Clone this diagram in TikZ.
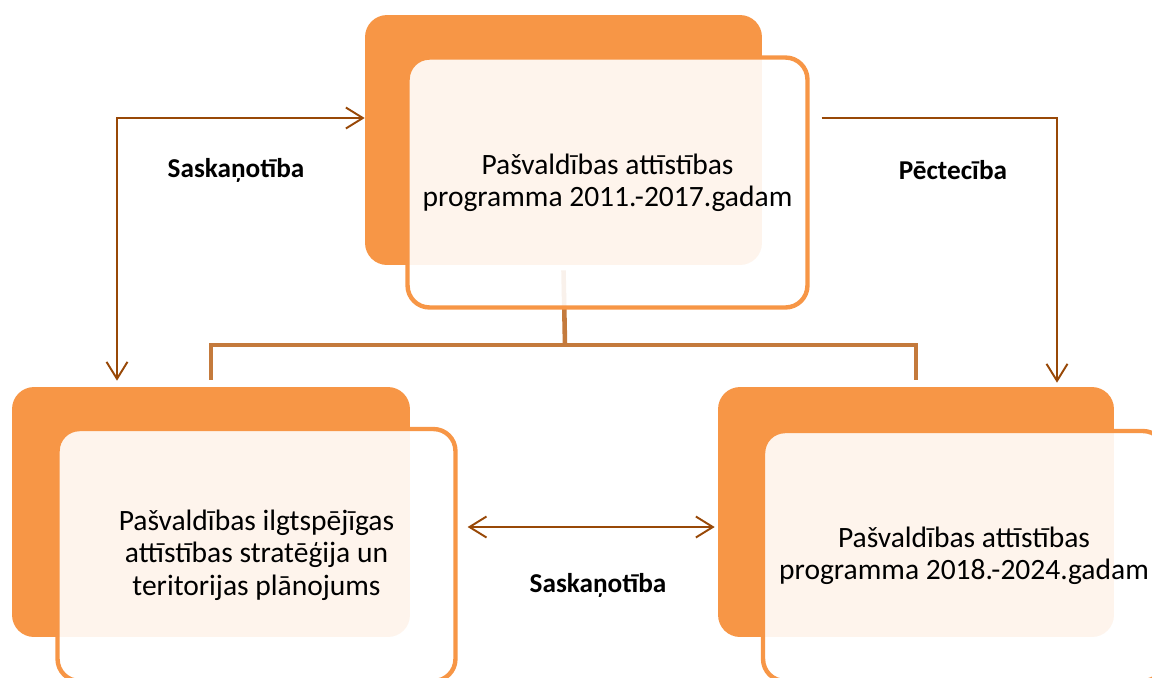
\documentclass[tikz,border=0pt]{standalone}
\usepackage{fontspec}
\setmainfont{Carlito}
\usepackage[HTML]{xcolor}
\usetikzlibrary{positioning, arrows.meta}
\definecolor{boxorange}{HTML}{F79646}
\definecolor{linkbrown}{HTML}{984807}
\definecolor{treebrown}{HTML}{C47A3C}

\begin{document}
\begin{tikzpicture}[x=0.02cm, y=-0.02cm,
    >={Straight Barb[length=0.34cm, width=0.42cm]},
    backbox/.style={fill=boxorange, rounded corners=0.44cm, inner sep=0pt, minimum height=5cm},
    frontbox/.style={draw=boxorange, line width=2.5pt, fill=white, fill opacity=0.9, text opacity=1,
        rounded corners=0.44cm, inner sep=0pt, align=center, font=\fontsize{16.8}{18.4}\selectfont},
    tree/.style={draw=treebrown, line width=2.6pt},
    link/.style={draw=linkbrown, line width=1.1pt},
    linklabel/.style={font=\bfseries\fontsize{15.5}{18}\selectfont}]
\useasboundingbox (0,0) rectangle (1152,677);

% orange boxes behind
\node[backbox, minimum width=7.94cm] (topback) at (563.5, 140) {};
\node[backbox, minimum width=7.96cm] (leftback) at (211, 512) {};
\node[backbox, minimum width=7.92cm] (rightback) at (916, 512) {};

% tree under the top box
\coordinate (hub) at (565, 345);
\draw[tree] ([yshift=-0.1cm]topback.south) -- (hub);
\draw[tree] ([yshift=0.14cm]leftback.north) |- (hub) -| ([yshift=0.14cm]rightback.north);

% boxes in front
\node[frontbox, minimum width=8cm, minimum height=5cm] (topfront) at (607.5, 182.5)
    {Pašvaldības attīstības\\programma 2011.-2017.gadam};
\node[frontbox, minimum width=7.96cm, minimum height=5.04cm] (leftfront) at (256.5, 555)
    {Pašvaldības ilgtspējīgas\\attīstības stratēģija un\\teritorijas plānojums};
\node[frontbox, minimum width=8.04cm, minimum height=5cm] (rightfront) at (964, 556)
    {Pašvaldības attīstības\\programma 2018.-2024.gadam};

% links
\coordinate (lbend) at (117, 118);
\coordinate (rbend) at (1057, 118);
\coordinate (mid) at (590, 527);
\draw[link, <->, shorten >=0.12cm] (topback.west |- lbend) -- (lbend) -- (lbend |- leftback.north);
\draw[link, ->, shorten <=0.24cm, shorten >=0.08cm] (topfront.east |- rbend) -- (rbend) -- (rbend |- rightback.north);
\draw[link, <->, shorten <=0.2cm, shorten >=0.06cm] (leftfront.east |- mid) -- (rightback.west |- mid);

\node[linklabel] (lefttext) at (236, 170) {Saskaņotība};
\node[linklabel] (righttext) at (953, 170) {Pēctecība};
\node[linklabel] (midtext) at (598, 585) {Saskaņotība};

\end{tikzpicture}
\end{document}
